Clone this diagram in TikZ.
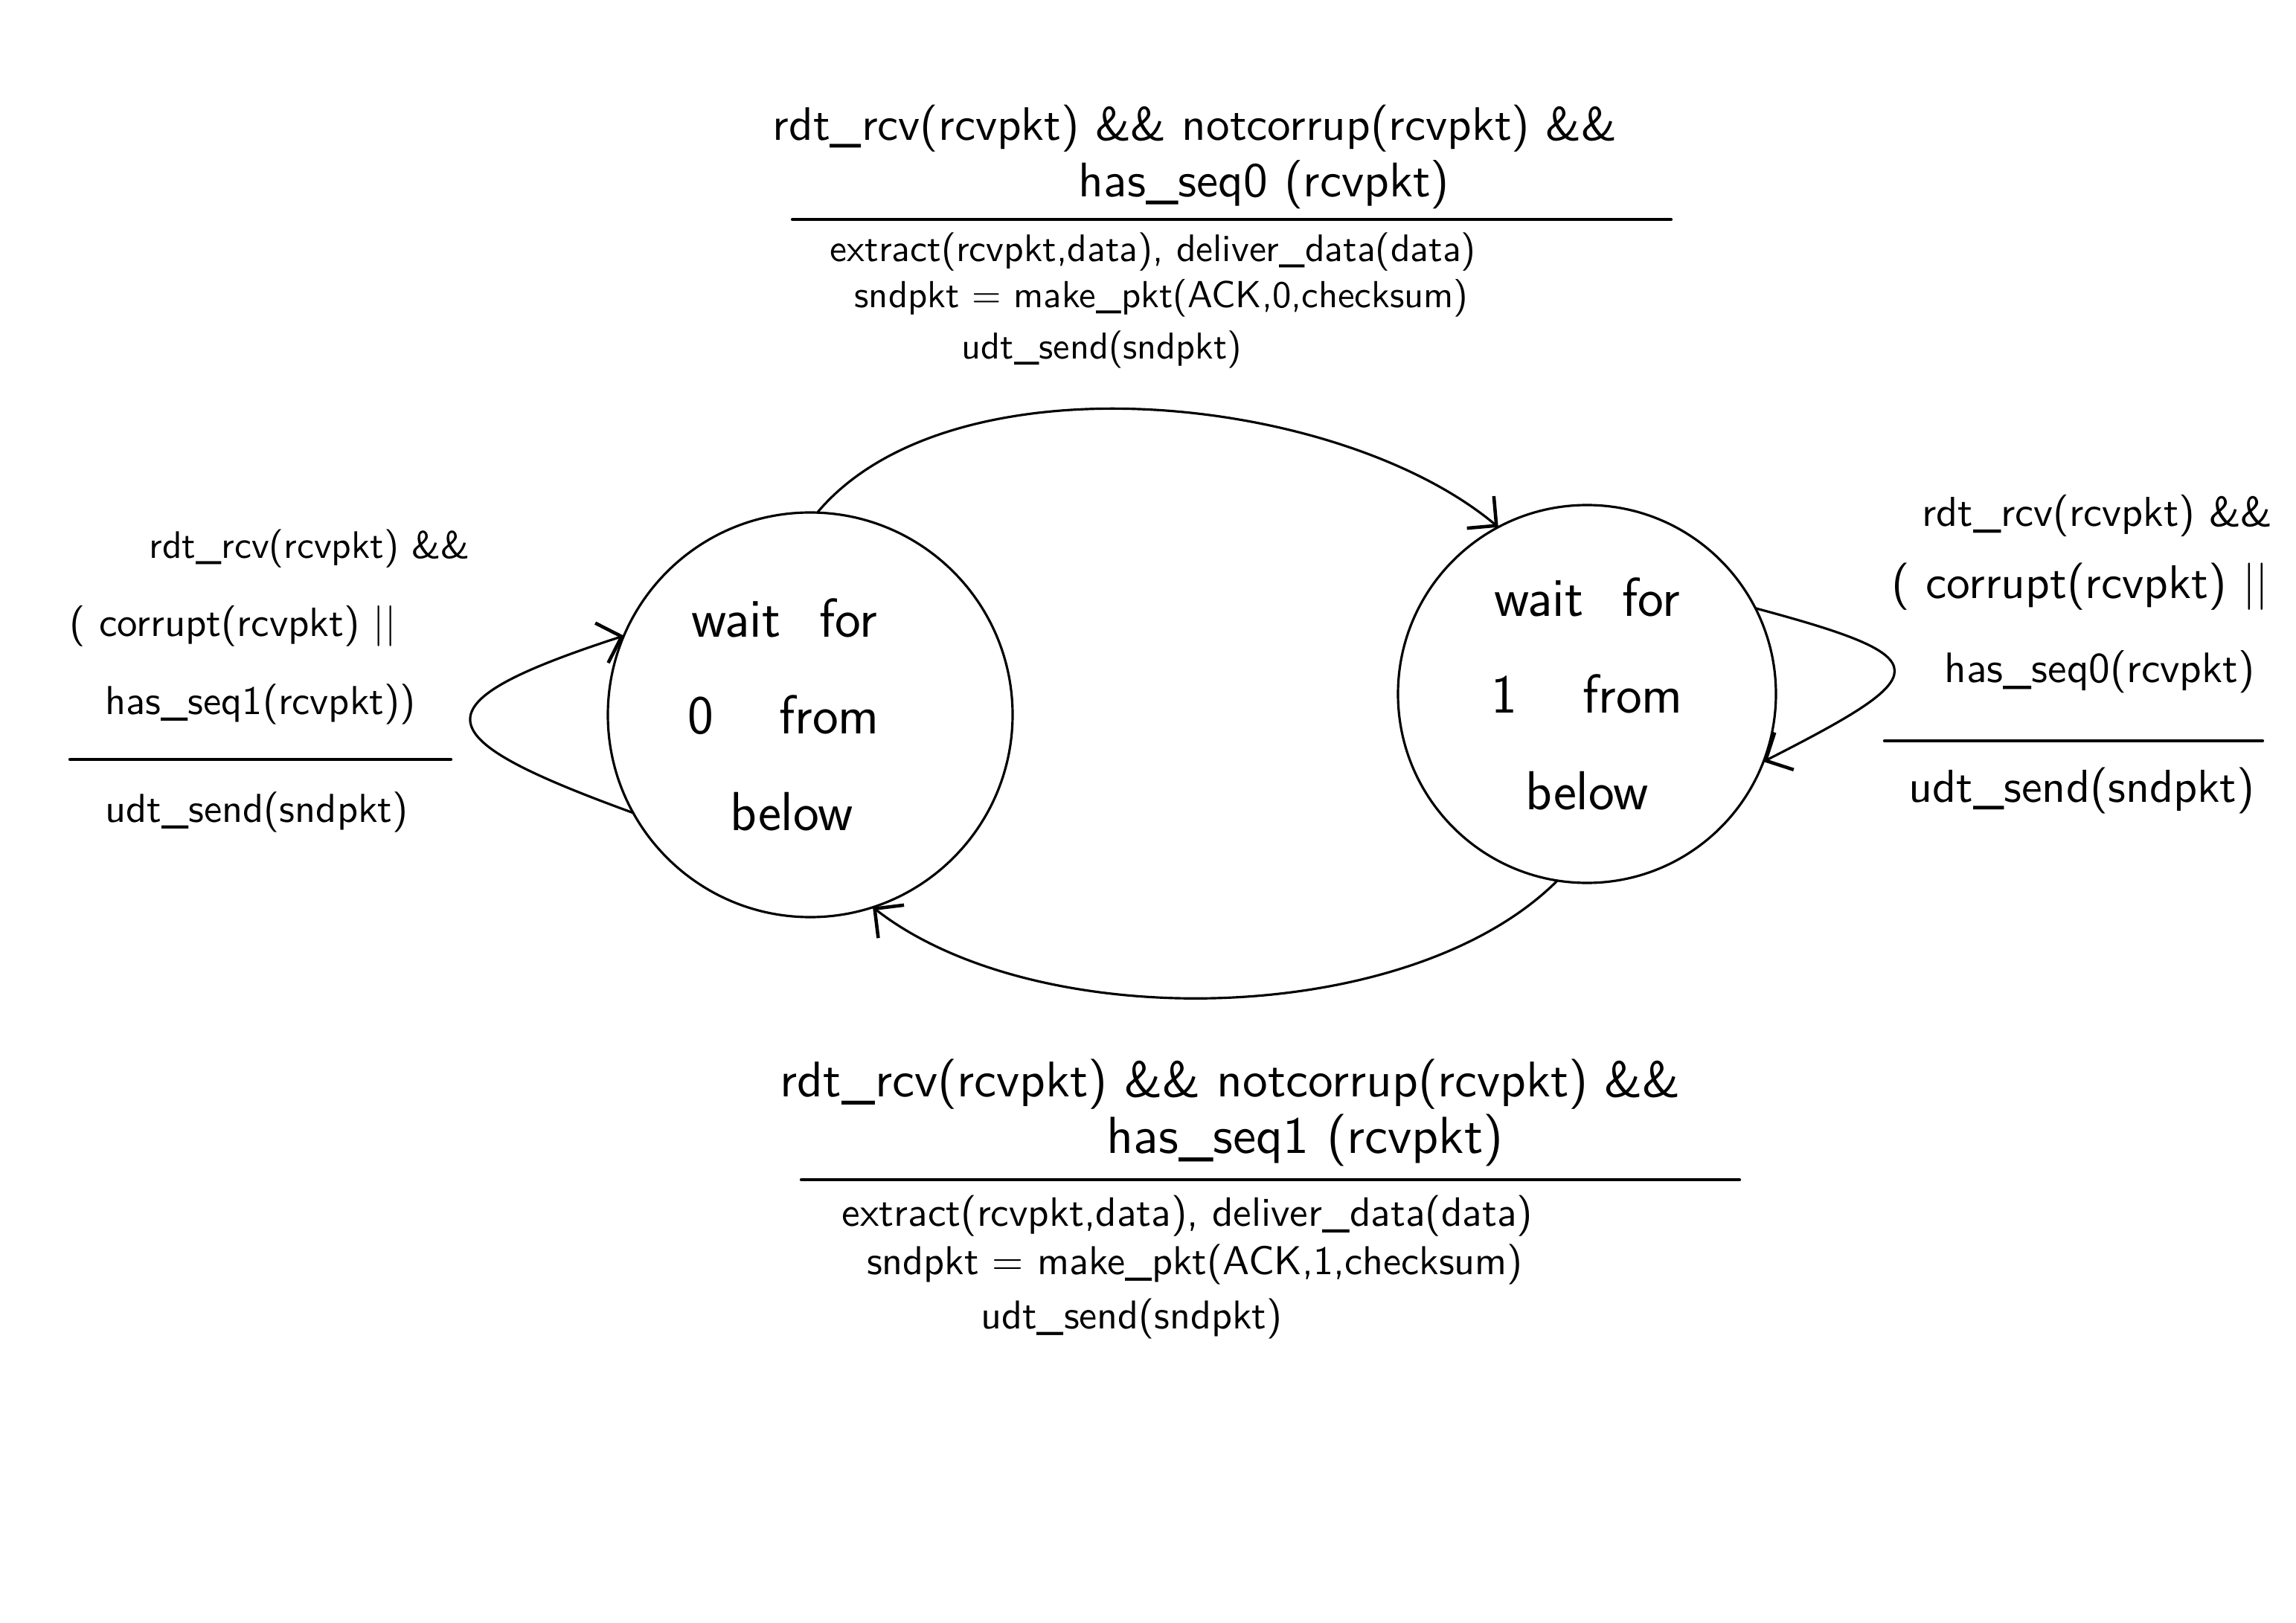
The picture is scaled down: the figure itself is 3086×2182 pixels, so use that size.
\documentclass[tikz,border=0pt]{standalone}
\usepackage{fontspec}
\usetikzlibrary{arrows.meta}
% one unit of the drawing grid
\newlength\px \setlength\px{0.01cm}
% set one line of a label at a given width
\newcommand\hw[2]{\resizebox{#1\px}{!}{#2}}

\begin{document}
\begin{tikzpicture}[x=0.01cm,y=0.01cm,line cap=round,line join=round,
  state/.style={draw, circle, line width=0.9pt, inner sep=0pt, outer sep=0pt,
    align=center, font=\sffamily\fontsize{21}{37}\selectfont},
  trans/.style={line width=0.9pt,
    -{Straight Barb[length=8pt,width=16pt,line width=1.3pt]}},
  lbl/.style={inner sep=0pt, font=\sffamily},
  guard/.style={line width=1.2pt}]

\fill[white] (0,0) rectangle (3086,-2182);
\useasboundingbox (0,0) rectangle (3086,-2182);

% states (the text of the first one sits a little left of centre)
\node[state, minimum size=544\px] (w0) at (1089,-961)
  {\mbox{wait\hspace{0.7em}for\hspace{70\px}}\\
   \mbox{0\hspace{1.2em}from\hspace{72\px}}\\
   \mbox{below\hspace{50\px}}};
\node[state, minimum size=508\px] (w1) at (2133,-933)
  {wait\hspace{0.7em}for\\1\hspace{1.2em}from\\below};

% transitions
\draw[trans] (w0.88) to[out=50,in=140,out distance=2.8cm,in distance=2.8cm] (w1.118);
\draw[trans] (w1.261) to[out=225,in=322,out distance=2.81cm,in distance=2.81cm] (w0.288);
\draw[trans] (w0.209) to[out=160,in=198,out distance=2.99cm,in distance=2.99cm] (w0.157);
\draw[trans] (w1.27) to[out=-15,in=27,out distance=2.6cm,in distance=2.6cm] (w1.339);

% top transition label
\node[lbl] (t1) at (1606,-173) {\hw{1134}{rdt\_rcv(rcvpkt) \&\& notcorrup(rcvpkt) \&\&}};
\node[lbl] (t2) at (1699,-248) {\hw{498}{has\_seq0 (rcvpkt)}};
\draw[guard] (1065,-295) -- (2246,-295);
\node[lbl] (t3) at (1550,-339) {\hw{868}{extract(rcvpkt,data), deliver\_data(data)}};
\node[lbl] (t4) at (1561,-401) {\hw{825}{sndpkt = make\_pkt(ACK,0,checksum)}};
\node[lbl] (t5) at (1481,-470) {\hw{376}{udt\_send(sndpkt)}};

% bottom transition label
\node[lbl] (b1) at (1654,-1458) {\hw{1210}{rdt\_rcv(rcvpkt) \&\& notcorrup(rcvpkt) \&\&}};
\node[lbl] (b2) at (1754,-1533) {\hw{533}{has\_seq1 (rcvpkt)}};
\draw[guard] (1077,-1586) -- (2338,-1586);
\node[lbl] (b3) at (1596,-1635) {\hw{928}{extract(rcvpkt,data), deliver\_data(data)}};
\node[lbl] (b4) at (1606,-1700) {\hw{882}{sndpkt = make\_pkt(ACK,1,checksum)}};
\node[lbl] (b5) at (1521,-1773) {\hw{405}{udt\_send(sndpkt)}};

% left self-loop label
\node[lbl] (l1) at (416,-738) {\hw{431}{rdt\_rcv(rcvpkt) \&\&}};
\node[lbl] (l2) at (313,-842) {\hw{439}{( corrupt(rcvpkt) ||}};
\node[lbl] (l3) at (350,-947) {\hw{417}{has\_seq1(rcvpkt))}};
\draw[guard] (94,-1021) -- (606,-1021);
\node[lbl] (l4) at (345,-1092) {\hw{407}{udt\_send(sndpkt)}};

% right self-loop label
\node[lbl] (r1) at (2819,-693) {\hw{471}{rdt\_rcv(rcvpkt) \&\&}};
\node[lbl] (r2) at (2796,-789) {\hw{507}{( corrupt(rcvpkt) ||}};
\node[lbl] (r3) at (2822,-903) {\hw{417}{has\_seq0(rcvpkt)}};
\draw[guard] (2533,-996) -- (3041,-996);
\node[lbl] (r4) at (2798,-1063) {\hw{465}{udt\_send(sndpkt)}};
\end{tikzpicture}
\end{document}
